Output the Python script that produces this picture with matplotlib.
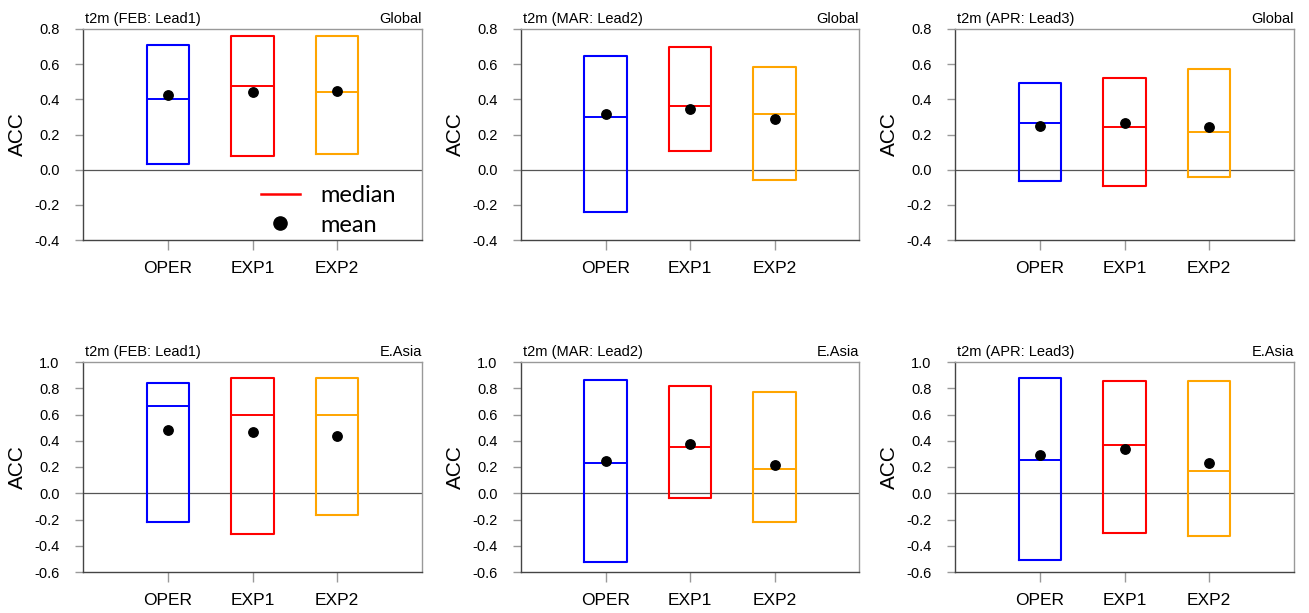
import numpy as np
import matplotlib.pyplot as plt
from matplotlib.lines import Line2D

plt.rcParams['font.family'] = ['Liberation Sans', 'DejaVu Sans']

models = ['OPER', 'EXP1', 'EXP2']
colors = ['#0000ff', '#ff0000', '#ffa500']

titles = ['t2m (FEB: Lead1)', 't2m (MAR: Lead2)', 't2m (APR: Lead3)']
regions = ['Global', 'E.Asia']

# box top / bottom / median / mean  per panel  [OPER, EXP1, EXP2]
glob_top = [[0.71, 0.76, 0.76], [0.645, 0.70, 0.585], [0.495, 0.52, 0.57]]
glob_bot = [[0.035, 0.075, 0.09], [-0.24, 0.105, -0.06], [-0.062, -0.092, -0.042]]
glob_med = [[0.40, 0.475, 0.44], [0.30, 0.36, 0.316], [0.263, 0.244, 0.216]]
glob_mean = [[0.427, 0.442, 0.448], [0.314, 0.343, 0.29], [0.25, 0.263, 0.24]]

easia_top = [[0.843, 0.878, 0.878], [0.863, 0.815, 0.772], [0.876, 0.853, 0.853]]
easia_bot = [[-0.218, -0.314, -0.165], [-0.527, -0.035, -0.22], [-0.506, -0.306, -0.324]]
easia_med = [[0.663, 0.595, 0.597], [0.233, 0.352, 0.185], [0.251, 0.367, 0.17]]
easia_mean = [[0.484, 0.468, 0.435], [0.248, 0.375, 0.215], [0.291, 0.334, 0.228]]

W, H = 1309, 613
fig = plt.figure(figsize=(W / 100, H / 100), dpi=100)

lefts = [83, 521, 955]
widths = [339, 338, 339]
rows = [(29, 240), (362, 572)]
ylims = [(-0.4, 0.8), (-0.6, 1.0)]

data = [(glob_top, glob_bot, glob_med, glob_mean),
        (easia_top, easia_bot, easia_med, easia_mean)]

for r in range(2):
    top_px, bot_px = rows[r]
    tops, bots, meds, means = data[r]
    for c in range(3):
        ax = fig.add_axes([lefts[c] / W, 1 - bot_px / H, widths[c] / W, (bot_px - top_px) / H])
        x = np.arange(1, 4)
        hw = 0.25
        for i in range(3):
            t, b, m = tops[c][i], bots[c][i], meds[c][i]
            ax.plot([x[i] - hw, x[i] + hw, x[i] + hw, x[i] - hw, x[i] - hw],
                    [b, b, t, t, b], color=colors[i], lw=1.5, zorder=3)
            ax.plot([x[i] - hw, x[i] + hw], [m, m], color=colors[i], lw=1.4, zorder=3)
        ax.scatter(x, means[c], s=46, color='black', zorder=4)
        ax.axhline(0, color='#555555', lw=0.9, zorder=1)
        ax.set_xlim(0, 4)
        lo, hi = ylims[r]
        ax.set_ylim(lo, hi)
        yt = np.arange(lo, hi + 0.01, 0.2)
        ax.set_yticks(yt)
        ax.set_yticklabels(['%.1f' % v for v in yt])
        ax.set_xticks(x)
        ax.set_xticklabels(models)
        ax.tick_params(axis='y', direction='out', length=6, width=1, color='#999999',
                       labelsize=10.5, pad=11)
        ax.tick_params(axis='x', direction='out', length=7, width=1, color='#999999',
                       labelsize=12.5, pad=8)
        for s in ['left', 'bottom']:
            ax.spines[s].set_color('#444444')
            ax.spines[s].set_linewidth(1.0)
        for s in ['top', 'right']:
            ax.spines[s].set_color('#999999')
            ax.spines[s].set_linewidth(1.0)
        ax.set_ylabel('ACC', fontsize=15, labelpad=5)
        ax.set_title(titles[c], loc='left', fontsize=10.5, pad=4, x=0.006)
        ax.set_title(regions[r], loc='right', fontsize=10.5, pad=4)

        if r == 0 and c == 0:
            h1 = Line2D([], [], color='red', lw=1.8)
            h2 = Line2D([], [], color='black', marker='o', ls='none', markersize=9.5)
            ax.legend([h1, h2], ['median', 'mean'], loc='center left',
                      bbox_to_anchor=(0.525, 0.14), frameon=False,
                      borderaxespad=0, borderpad=0,
                      prop={'family': 'Lato', 'size': 17}, handlelength=1.65,
                      handletextpad=0.85, labelspacing=0.35)

fig.savefig('out.png', dpi=100)
